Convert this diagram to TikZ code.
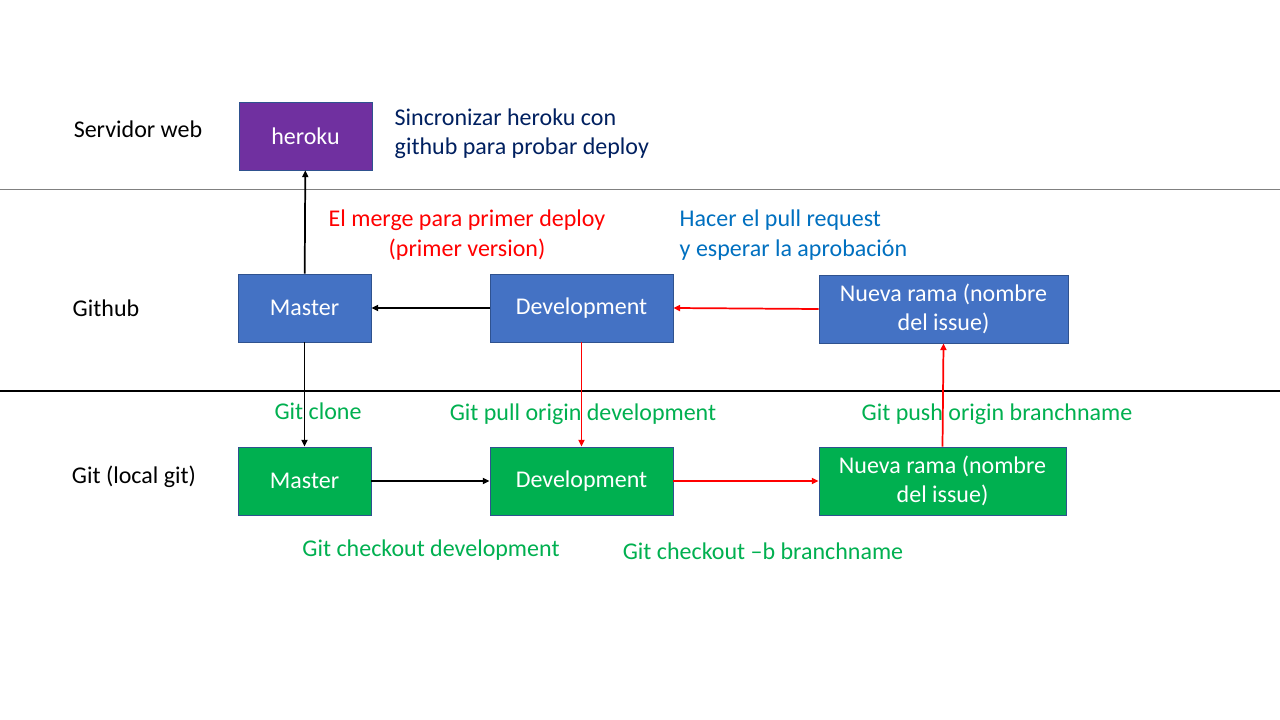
\documentclass[tikz,border=0pt]{standalone}
\usepackage{fontspec}
\setmainfont{Carlito}
\usepackage{tikz}
\usetikzlibrary{positioning,calc,arrows.meta}

\definecolor{herokupurple}{HTML}{7030A0}
\definecolor{hubblue}{HTML}{4472C4}
\definecolor{localgreen}{HTML}{00B050}
\definecolor{boxborder}{HTML}{2F528F}
\definecolor{navytext}{HTML}{002060}
\definecolor{notetext}{HTML}{0070C0}
\definecolor{gitred}{HTML}{FF0000}

\begin{document}
\begin{tikzpicture}[
x=0.75pt, y=-0.75pt,
font=\fontsize{18}{22}\selectfont,
branch/.style={rectangle, draw=boxborder, line width=0.6pt, text=white, align=center, minimum height=51pt, inner sep=2pt},
cmd/.style={text=localgreen},
flow/.style={-{Triangle[length=5pt,width=4.5pt]}, line width=1.3pt}
]
	\useasboundingbox [fill=white] (0,0) rectangle (1280,720);

	% rows
	\draw [gray, line width=0.6pt] (0,189) -- (1280,189);
	\draw [black, line width=1.2pt] (0,391) -- (1280,391);

	\node at (138,129) (rowweb) {Servidor web};
	\node at (106,308) (rowhub) {Github};
	\node at (134,477) (rowlocal) {Git (local git)};

	% boxes
	\node at (305.5,136) [branch, fill=herokupurple, minimum width=99.75pt] (heroku) {heroku};
	\node at (304.5,308) [branch, fill=hubblue, minimum width=99.75pt] (hubmaster) {Master};
	\node at (581.5,308) [branch, fill=hubblue, minimum width=137.25pt] (hubdev) {Development};
	\node at (943.5,309) [branch, fill=hubblue, minimum width=186.75pt] (hubissue) {Nueva rama (nombre\\del issue)};
	\node at (304.5,481) [branch, fill=localgreen, minimum width=99.75pt] (localmaster) {Master};
	\node at (581.5,481) [branch, fill=localgreen, minimum width=137.25pt] (localdev) {Development};
	\node at (942.5,481) [branch, fill=localgreen, minimum width=185.25pt] (localissue) {Nueva rama (nombre\\del issue)};

	% notes
	\node [anchor=west, text=navytext, align=left] at (390,134) (syncnote) {Sincronizar heroku con\\github para probar deploy};
	\node [text=gitred, align=center] at (467,235) (mergenote) {El merge para primer deploy\\(primer version)};
	\node [anchor=west, text=notetext, align=left] at (675,235) (prnote) {Hacer el pull request\\y esperar la aprobación};

	\node [cmd] at (318,411) (clone) {Git clone};
	\node [cmd] at (583,414) (pull) {Git pull origin development};
	\node [cmd] at (997,414) (push) {Git push origin branchname};
	\node [cmd] at (431,550) (checkdev) {Git checkout development};
	\node [cmd] at (763,551) (checkb) {Git checkout –b branchname};

	% connectors
	\draw [flow] (hubmaster) -- (heroku);
	\draw [flow] (hubdev) -- (hubmaster);
	\draw [flow, gitred] (hubissue.west) -- (hubdev.east);
	\draw [flow] (hubmaster) -- (localmaster);
	\draw [flow, gitred] (hubdev) -- (localdev);
	\draw [flow] (localmaster) -- (localdev);
	\draw [flow, gitred] (localdev) -- (localissue);
	\draw [flow, gitred] (localissue.north) -- (hubissue.south);

\end{tikzpicture}
\end{document}
